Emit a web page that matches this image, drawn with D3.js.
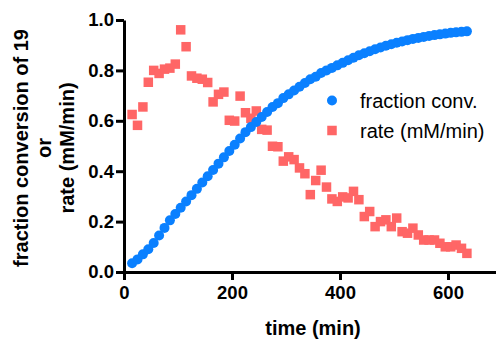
<!DOCTYPE html>
<html>
<head>
<meta charset="utf-8">
<script src="https://cdn.jsdelivr.net/npm/d3@7"></script>
<style>
    body { margin: 0; background: #fff; }
    text { font-family: "Liberation Sans", Arial, Helvetica, sans-serif; }
</style>
</head>
<body>
<div id="chart"></div>
<script>
// time points (min), one every 10 min
var times = [15, 25, 35, 45, 55, 65, 75, 85, 95, 105, 115, 125, 135, 145, 155, 165, 175, 185, 195, 205,
    215, 225, 235, 245, 255, 265, 275, 285, 295, 305, 315, 325, 335, 345, 355, 365, 375, 385, 395, 405,
    415, 425, 435, 445, 455, 465, 475, 485, 495, 505, 515, 525, 535, 545, 555, 565, 575, 585, 595, 605,
    615, 625, 635];

var fractionConv = [0.035, 0.05, 0.07, 0.09, 0.115, 0.145, 0.175, 0.205, 0.23, 0.255, 0.28, 0.305, 0.33, 0.355, 0.38, 0.405, 0.43, 0.455, 0.48, 0.505,
    0.53, 0.555, 0.575, 0.595, 0.615, 0.635, 0.655, 0.67, 0.69, 0.705, 0.72, 0.735, 0.75, 0.765, 0.775, 0.79, 0.80, 0.81, 0.82, 0.83,
    0.84, 0.85, 0.86, 0.868, 0.876, 0.884, 0.891, 0.898, 0.904, 0.91, 0.915, 0.92, 0.925, 0.929, 0.933, 0.937, 0.94, 0.943, 0.946, 0.949,
    0.951, 0.953, 0.955];

var rate = [0.625, 0.582, 0.655, 0.753, 0.80, 0.788, 0.805, 0.809, 0.825, 0.961, 0.894, 0.778, 0.769, 0.765, 0.752, 0.675, 0.705, 0.714, 0.602, 0.599,
    0.698, 0.632, 0.61, 0.639, 0.566, 0.563, 0.499, 0.497, 0.44, 0.457, 0.446, 0.413, 0.39, 0.307, 0.363, 0.404, 0.337, 0.29, 0.28, 0.298,
    0.294, 0.32, 0.287, 0.22, 0.24, 0.18, 0.20, 0.207, 0.18, 0.214, 0.16, 0.154, 0.174, 0.147, 0.127, 0.127, 0.127, 0.114, 0.10, 0.10,
    0.107, 0.094, 0.074];

var xTicks = [0, 200, 400, 600];
var yTicks = [0.0, 0.2, 0.4, 0.6, 0.8, 1.0];
var seriesNames = ["fraction conv.", "rate (mM/min)"];
var yLabelLines = ["fraction conversion of 19", "or", "rate (mM/min)"];

var width = 496, height = 340;
var blue = "#0a80ff", red = "#ff6666";

var xScale = d3.scaleLinear().domain([0, 700]).range([124, 502]);
var yScale = d3.scaleLinear().domain([0, 1]).range([272, 20]);

var svg = d3.select("#chart").append("svg")
    .attr("width", width)
    .attr("height", height);

var xAxis = d3.axisBottom(xScale).tickValues(xTicks).tickSize(8).tickPadding(6).tickSizeOuter(0);
var yAxis = d3.axisLeft(yScale).tickValues(yTicks).tickSize(8).tickPadding(2).tickSizeOuter(0)
    .tickFormat(d3.format(".1f"));

function drawAxis(axis, translate) {
    var g = svg.append("g")
        .attr("transform", translate)
        .call(axis);
    g.select(".domain").attr("stroke-width", 3).attr("stroke", "#000");
    g.selectAll(".tick line").attr("stroke-width", 3).attr("stroke", "#000");
    g.selectAll(".tick text")
        .attr("fill", "#000")
        .style("font-size", "18.5px")
        .style("font-weight", "bold")
        .style("font-family", "'Liberation Sans', Arial, sans-serif");
    return g;
}

drawAxis(xAxis, "translate(0," + yScale(0) + ")");
drawAxis(yAxis, "translate(" + xScale(0) + ",0)");

// axis titles
svg.append("text")
    .attr("x", (xScale.range()[0] + xScale.range()[1]) / 2)
    .attr("y", 335)
    .attr("text-anchor", "middle")
    .style("font-size", "20px")
    .style("font-weight", "bold")
    .text("time (min)");

svg.append("g")
    .attr("transform", "translate(28,148) rotate(-90)")
    .selectAll("text")
    .data(yLabelLines)
    .join("text")
    .attr("x", 0)
    .attr("y", (d, i) => i * 23)
    .attr("text-anchor", "middle")
    .style("font-size", "20px")
    .style("font-weight", "bold")
    .text(d => d);

// rate squares
var sq = 9.5;
svg.append("g").selectAll("rect")
    .data(times.map((t, i) => ({t: t, v: rate[i]})))
    .join("rect")
    .attr("x", d => xScale(d.t) - sq / 2)
    .attr("y", d => yScale(d.v) - sq / 2)
    .attr("width", sq)
    .attr("height", sq)
    .attr("fill", red);

// fraction conversion circles
svg.append("g").selectAll("circle")
    .data(times.map((t, i) => ({t: t, v: fractionConv[i]})))
    .join("circle")
    .attr("cx", d => xScale(d.t))
    .attr("cy", d => yScale(d.v))
    .attr("r", 5)
    .attr("fill", blue);

// legend
var legend = svg.append("g").attr("transform", "translate(332,100.5)");
legend.append("circle").attr("cx", 0).attr("cy", 0).attr("r", 5).attr("fill", blue);
legend.append("rect").attr("x", -sq / 2).attr("y", 30 - sq / 2).attr("width", sq).attr("height", sq).attr("fill", red);
legend.selectAll("text")
    .data(seriesNames)
    .join("text")
    .attr("x", 28)
    .attr("y", (d, i) => i * 30)
    .attr("dy", "0.35em")
    .style("font-size", "20px")
    .text(d => d);
</script>
</body>
</html>
